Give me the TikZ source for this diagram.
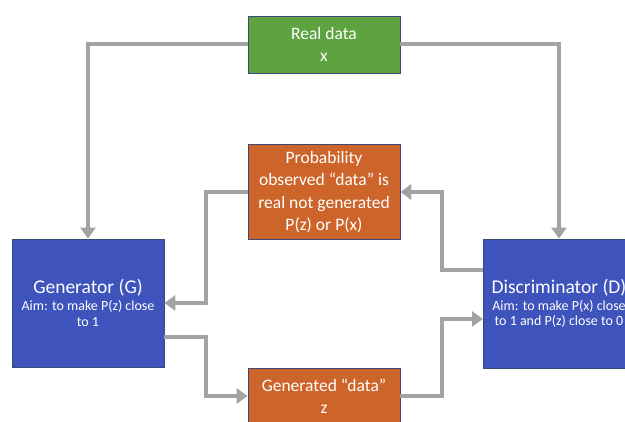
\documentclass[tikz,border=0pt]{standalone}
\usepackage{fontspec}
\setmainfont{Carlito}
\usetikzlibrary{arrows.meta,positioning}
\definecolor{boxgreen}{HTML}{5EA33F}
\definecolor{boxorange}{HTML}{CD652B}
\definecolor{boxblue}{HTML}{3E53BC}
\definecolor{boxedge}{HTML}{3A4A78}
\definecolor{linkgray}{HTML}{A3A3A3}
\begin{document}
\begin{tikzpicture}[x=1pt,y=-1pt,
    box/.style={draw=boxedge, line width=0.8pt, text=white, align=center, inner sep=0pt, minimum width=152pt},
    small/.style={font=\fontsize{17.5}{22.5}\selectfont},
    aim/.style={font=\fontsize{14}{15.5}\selectfont},
    link/.style={draw=linkgray, line width=4pt, -{Triangle[width=15pt,length=11pt]}}]
  \useasboundingbox (0,0) rectangle (625,422);
  \clip (0,0) rectangle (625,422);
  \node [box, small, fill=boxgreen, minimum height=57pt] (real) at (324,44.5) {Real data\\x};
  \node [box, small, fill=boxorange, minimum height=95pt] (prob) at (324,192) {Probability\\observed “data” is\\real not generated\\P(z) or P(x)};
  \node [box, aim, fill=boxblue, minimum height=128pt] (gen) at (88,303) {{\fontsize{19.5}{20}\selectfont Generator (G)}\\[1.5pt]Aim: to make P(z) close\\to 1};
  \node [box, aim, fill=boxblue, minimum height=129pt] (disc) at (559,303.5) {{\fontsize{19.5}{20}\selectfont Discriminator (D)}\\[1.5pt]Aim: to make P(x) close\\to 1 and P(z) close to 0};
  \node [box, small, fill=boxorange, minimum height=56pt] (fake) at (324,396) {Generated “data”\\z};
  \coordinate (d1) at (483,270);
  \coordinate (d2) at (483,319);
  \coordinate (g1) at (164,337);
  \draw [link] (real.west) -| (gen.north);
  \draw [link] (real.east) -| (disc.north);
  \draw [link] (d1) -- ++(-41,0) |- (prob.east);
  \draw [link] (prob.west) -- ++(-42,0) |- (gen.east);
  \draw [link] (g1) -- ++(42,0) |- (fake.west);
  \draw [link] (fake.east) -- ++(42,0) |- (d2);
\end{tikzpicture}
\end{document}
